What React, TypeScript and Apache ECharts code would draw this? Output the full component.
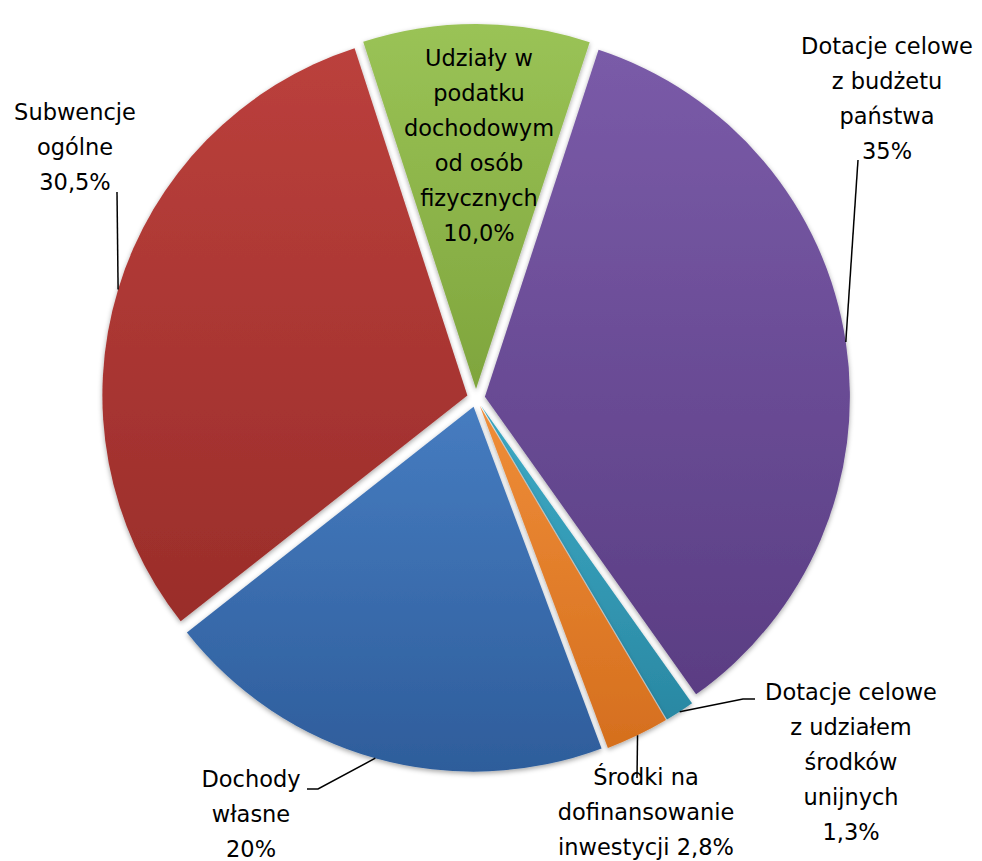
import React, { useEffect, useRef } from "react";
import * as echarts from "echarts";

// ---- data ----
const categories = [
  "Udziały w\npodatku\ndochodowym\nod osób\nfizycznych",
  "Dotacje celowe\nz budżetu\npaństwa",
  "Dotacje celowe\nz udziałem\nśrodków\nunijnych",
  "Środki na\ndofinansowanie\ninwestycji",
  "Dochody\nwłasne",
  "Subwencje\nogólne",
];
const values = [10.0, 35, 1.3, 2.8, 20, 30.5];
const valueLabels = ["10,0%", "35%", "1,3%", "2,8%", "20%", "30,5%"];
const separators = ["\n", "\n", "\n", " ", "\n", "\n"];

// ---- styling ----
const colorStops: [string, string][] = [
  ["#9ac356", "#7fa53d"], // green
  ["#7a5ba8", "#5a3d83"], // purple
  ["#3dabc6", "#2a88a3"], // teal
  ["#ef8d38", "#d56f1e"], // orange
  ["#467cc0", "#2e5d9b"], // blue
  ["#bb403c", "#9a2d2a"], // red
];

const CENTER = [476, 398];
const RADIUS = 365;
const EXPLODE = 9;

// label placement (centre of text block) and extra leader-line points
const labelPlacement = [
  { x: 479, y: 145, line: [] as number[][] },
  { x: 887, y: 98, line: [[858, 160]] },
  { x: 851, y: 762, line: [[743, 699], [755, 699]] },
  { x: 646, y: 812, line: [[637, 778]] },
  { x: 251, y: 814, line: [[318, 789], [307, 789]] },
  { x: 75, y: 147, line: [[117, 192]] },
];

export default function App() {
  const ref = useRef<HTMLDivElement>(null);

  useEffect(() => {
    document.body.style.margin = "0";
    if (!ref.current) return;
    const chart = echarts.init(ref.current, undefined, { renderer: "svg" });

    const sliceData = values.map((v, i) => ({
      value: v,
      name: categories[i],
      selected: true,
      itemStyle: {
        color: new echarts.graphic.LinearGradient(0, 0, 0, 1, [
          { offset: 0, color: colorStops[i][0] },
          { offset: 1, color: colorStops[i][1] },
        ]),
      },
    }));

    const labelData = values.map((v, i) => ({
      value: v,
      name: categories[i],
      label: {
        position: i === 0 ? "inside" : "outside",
        formatter: () => categories[i] + separators[i] + valueLabels[i],
      },
      labelLine: { show: i !== 0 },
    }));

    chart.setOption({
      animation: false,
      backgroundColor: "#ffffff",
      series: [
        {
          type: "pie",
          center: CENTER,
          radius: [0, RADIUS],
          startAngle: 108,
          clockwise: true,
          selectedMode: "multiple",
          selectedOffset: EXPLODE,
          silent: true,
          label: { show: false },
          labelLine: { show: false },
          itemStyle: {
            borderWidth: 0,
            shadowBlur: 5,
            shadowColor: "rgba(0,0,0,0.35)",
            shadowOffsetY: 2,
          },
          select: { itemStyle: { borderWidth: 0 } },
          emphasis: { disabled: true },
          data: sliceData,
        },
        {
          type: "pie",
          center: CENTER,
          radius: [0, RADIUS + EXPLODE],
          startAngle: 108,
          clockwise: true,
          silent: true,
          z: 5,
          avoidLabelOverlap: false,
          itemStyle: { color: "rgba(0,0,0,0)", borderWidth: 0 },
          emphasis: { disabled: true },
          label: {
            show: true,
            color: "#000000",
            fontFamily: "'DejaVu Sans', 'Open Sans', sans-serif",
            fontSize: 22.5,
            lineHeight: 35,
            align: "center",
          },
          labelLine: {
            show: true,
            length: 20,
            length2: 10,
            lineStyle: { color: "#000000", width: 1.5 },
          },
          labelLayout: (params: any) => {
            const i = params.dataIndex;
            const cfg = labelPlacement[i];
            const p0 = params.labelLinePoints && params.labelLinePoints[0];
            const out: any = {
              x: cfg.x,
              y: cfg.y,
              align: "center",
              verticalAlign: "middle",
            };
            if (p0 && cfg.line.length) {
              out.labelLinePoints = [p0, ...cfg.line];
            }
            return out;
          },
          data: labelData,
        },
      ],
    });

    return () => chart.dispose();
  }, []);

  return <div ref={ref} style={{ width: 982, height: 861 }} />;
}
